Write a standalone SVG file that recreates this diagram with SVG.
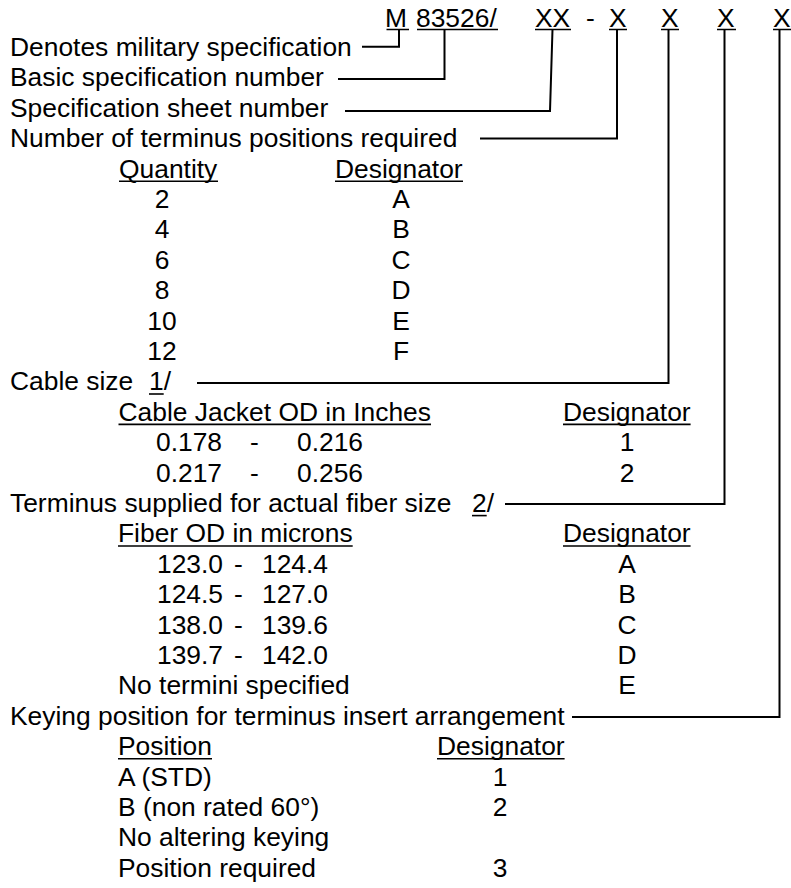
<svg xmlns="http://www.w3.org/2000/svg" width="791" height="888" viewBox="0 0 791 888">
<style>
text{font-family:"Liberation Sans",Arial,sans-serif;font-size:26.4px;fill:#000}
.m{text-anchor:middle}
.u{stroke:#000;stroke-width:1.6;fill:none}
.c{stroke:#000;stroke-width:2;fill:none}
</style>
<rect width="791" height="888" fill="#fff"/>
<g id="code">
<text x="385" y="27">M</text><text x="416" y="27">83526/</text><text x="535" y="27">XX</text><text x="586" y="27">-</text>
<text x="609" y="27">X</text><text x="661" y="27">X</text><text x="717" y="27">X</text><text x="773" y="27">X</text>
<path class="u" d="M386.5 29.5H409M417 29.5H498M535 29.5H571M609 29.5H627M661 29.5H679M717 29.5H736M773 29.5H791"/>
</g>
<g id="connectors">
<polyline class="c" points="399,29.5 399,46.7 362,46.7"/>
<polyline class="c" points="444.5,29.5 444.5,79 338,79"/>
<polyline class="c" points="552.5,29.5 550,111 345,111"/>
<polyline class="c" points="617,29.5 617,138.5 480,138.5"/>
<polyline class="c" points="668.5,29.5 668.5,383 197,383"/>
<polyline class="c" points="724.5,29.5 724.5,504 505,504"/>
<polyline class="c" points="779.5,29.5 779.5,717 572,717"/>
</g>
<g id="mil"><text x="10" y="56">Denotes military specification</text></g>
<g id="basic"><text x="10" y="86.4">Basic specification number</text></g>
<g id="sheet"><text x="10" y="116.8">Specification sheet number</text></g>
<g id="positions">
<text x="10" y="147.2">Number of terminus positions required</text>
<text x="119" y="177.6">Quantity</text><text x="335" y="177.6">Designator</text>
<path class="u" d="M119 181.2H218M335 181.2H463"/>
<text class="m" x="162" y="208">2</text><text class="m" x="401" y="208">A</text>
<text class="m" x="162" y="238.4">4</text><text class="m" x="401" y="238.4">B</text>
<text class="m" x="162" y="268.8">6</text><text class="m" x="401" y="268.8">C</text>
<text class="m" x="162" y="299.2">8</text><text class="m" x="401" y="299.2">D</text>
<text class="m" x="162" y="329.6">10</text><text class="m" x="401" y="329.6">E</text>
<text class="m" x="162" y="360">12</text><text class="m" x="401" y="360">F</text>
</g>
<g id="cable">
<text x="10" y="390.4">Cable size</text><text x="149" y="390.4">1/</text>
<path class="u" d="M149 394H163.7"/>
<text x="118.5" y="420.8">Cable Jacket OD in Inches</text><text x="563" y="420.8">Designator</text>
<path class="u" d="M118.5 424.4H431M563 424.4H690.6"/>
<text x="156" y="451.2">0.178</text><text x="250" y="451.2">-</text><text x="297" y="451.2">0.216</text><text class="m" x="627" y="451.2">1</text>
<text x="156" y="481.6">0.217</text><text x="250" y="481.6">-</text><text x="297" y="481.6">0.256</text><text class="m" x="627" y="481.6">2</text>
</g>
<g id="fiber">
<text x="10" y="512">Terminus supplied for actual fiber size</text><text x="472" y="512">2/</text>
<path class="u" d="M472 515.6H486.7"/>
<text x="118" y="542.4">Fiber OD in microns</text><text x="563" y="542.4">Designator</text>
<path class="u" d="M118 546H352.7M563 546H690.6"/>
<text x="157" y="572.8">123.0</text><text x="234" y="572.8">-</text><text x="262" y="572.8">124.4</text><text class="m" x="627" y="572.8">A</text>
<text x="157" y="603.2">124.5</text><text x="234" y="603.2">-</text><text x="262" y="603.2">127.0</text><text class="m" x="627" y="603.2">B</text>
<text x="157" y="633.6">138.0</text><text x="234" y="633.6">-</text><text x="262" y="633.6">139.6</text><text class="m" x="627" y="633.6">C</text>
<text x="157" y="664">139.7</text><text x="234" y="664">-</text><text x="262" y="664">142.0</text><text class="m" x="627" y="664">D</text>
<text x="118" y="694.4">No termini specified</text><text class="m" x="627" y="694.4">E</text>
</g>
<g id="keying">
<text x="10" y="724.8">Keying position for terminus insert arrangement</text>
<text x="118" y="755.2">Position</text><text x="437" y="755.2">Designator</text>
<path class="u" d="M118 758.8H212M437 758.8H564.6"/>
<text x="118" y="785.6">A (STD)</text><text class="m" x="500" y="785.6">1</text>
<text x="118" y="816">B (non rated 60°)</text><text class="m" x="500" y="816">2</text>
<text x="118" y="846.4">No altering keying</text>
<text x="118" y="876.8">Position required</text><text class="m" x="500" y="876.8">3</text>
</g>
</svg>
